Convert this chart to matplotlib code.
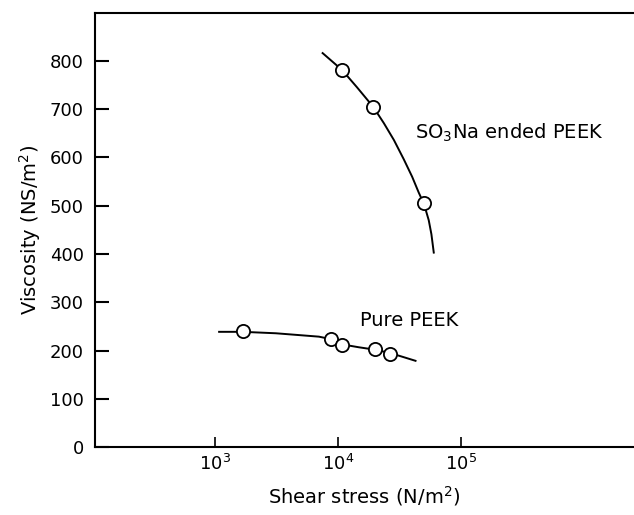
import matplotlib
matplotlib.use("Agg")
import matplotlib.pyplot as plt

# Measured points (shear stress in N/m^2, viscosity in NS/m^2)
so3na_stress = [1.08e4, 1.93e4, 5.0e4]
so3na_visc = [781, 705, 505]
pure_stress = [1.68e3, 8.7e3, 1.08e4, 2.0e4, 2.67e4]
pure_visc = [240, 225, 211, 203, 194]

# Hand-drawn trend lines through the data
so3na_line_x = [7.5e3, 1.08e4, 1.43e4, 1.93e4, 2.36e4, 2.85e4, 3.43e4,
                4.01e4, 4.54e4, 5.0e4, 5.47e4, 5.75e4, 6.01e4]
so3na_line_y = [816, 781, 745, 705, 671, 636, 596,
                560, 527, 504, 470, 441, 403]
pure_line_x = [1.08e3, 1.68e3, 3.13e3, 7.0e3, 8.7e3, 1.08e4, 1.48e4,
               2.0e4, 2.67e4, 4.27e4]
pure_line_y = [239, 239, 236, 229, 224, 213, 207, 202, 195, 179]

yticks = [0, 100, 200, 300, 400, 500, 600, 700, 800]
xticks = [1e3, 1e4, 1e5]

fig = plt.figure(figsize=(6.34, 5.15), dpi=100)
ax = fig.add_axes([0.1498, 0.1315, 0.8502, 0.8423])

ax.plot(so3na_line_x, so3na_line_y, color="black", lw=1.4, zorder=2)
ax.plot(pure_line_x, pure_line_y, color="black", lw=1.4, zorder=2)
ax.plot(so3na_stress, so3na_visc, "o", ms=9.5, mfc="white", mec="black",
        mew=1.3, zorder=3)
ax.plot(pure_stress, pure_visc, "o", ms=9.5, mfc="white", mec="black",
        mew=1.3, zorder=3)

ax.set_xscale("log")
ax.set_xlim(10**2.024, 10**6.407)
ax.set_ylim(0, 898)
ax.set_xticks(xticks)
ax.set_yticks(yticks)
ax.xaxis.set_minor_locator(matplotlib.ticker.NullLocator())

ax.spines["right"].set_visible(False)
for s in ["left", "top", "bottom"]:
    ax.spines[s].set_linewidth(1.5)

ax.tick_params(axis="y", direction="in", length=10, width=1.5,
               labelsize=13, pad=8)
ax.tick_params(axis="x", direction="in", length=7, width=1.2,
               labelsize=13, pad=5)

ax.set_xlabel(r"Shear stress (N/m$^2$)", fontsize=14, labelpad=7)
ax.set_ylabel(r"Viscosity (NS/m$^2$)", fontsize=14, labelpad=5)

ax.text(10**4.625, 651, r"SO$_3$Na ended PEEK", fontsize=14,
        va="center", ha="left")
ax.text(10**4.18, 262, "Pure PEEK", fontsize=14, va="center", ha="left")

fig.savefig("out.png", dpi=100)
